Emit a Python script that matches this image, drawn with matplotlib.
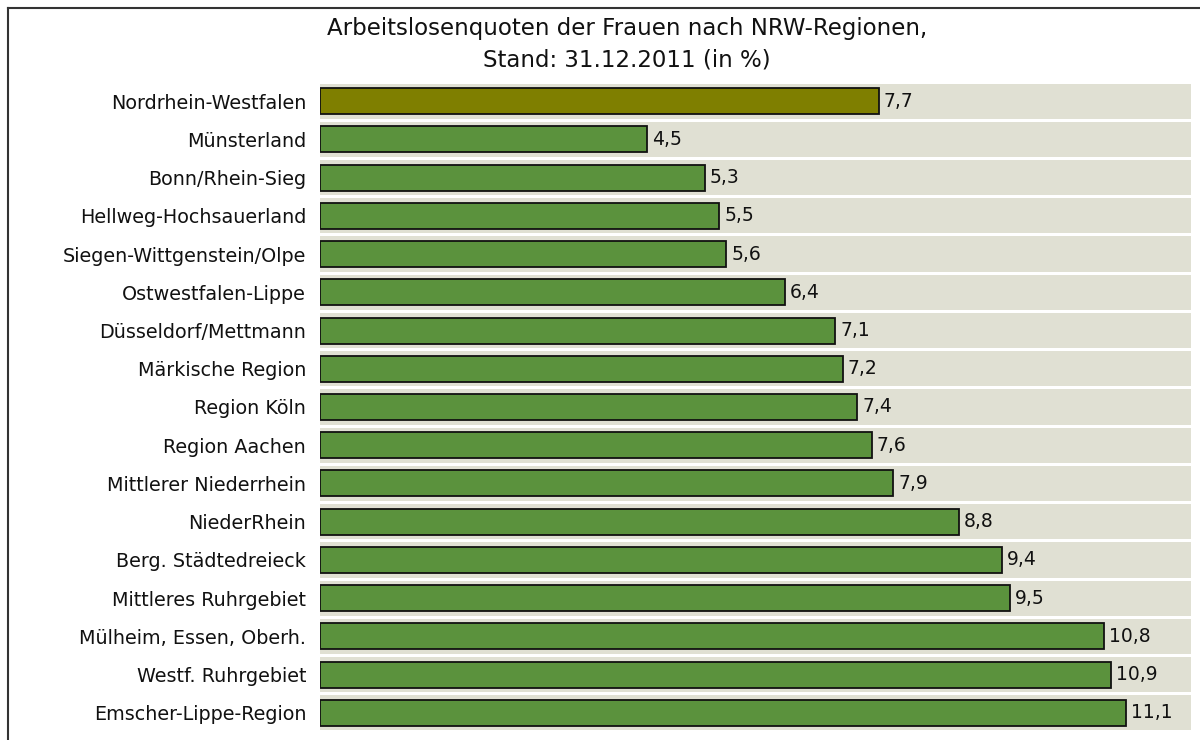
import numpy as np
import matplotlib
matplotlib.use("Agg")
import matplotlib.pyplot as plt
from matplotlib.lines import Line2D

plt.rcParams['font.family'] = ['DejaVu Sans']

regions = ["Nordrhein-Westfalen", "Münsterland", "Bonn/Rhein-Sieg",
           "Hellweg-Hochsauerland", "Siegen-Wittgenstein/Olpe",
           "Ostwestfalen-Lippe", "Düsseldorf/Mettmann", "Märkische Region",
           "Region Köln", "Region Aachen", "Mittlerer Niederrhein",
           "NiederRhein", "Berg. Städtedreieck", "Mittleres Ruhrgebiet",
           "Mülheim, Essen, Oberh.", "Westf. Ruhrgebiet", "Emscher-Lippe-Region"]
quote = [7.7, 4.5, 5.3, 5.5, 5.6, 6.4, 7.1, 7.2, 7.4, 7.6, 7.9, 8.8, 9.4,
         9.5, 10.8, 10.9, 11.1]

fig = plt.figure(figsize=(12, 7.4), dpi=100)
ax = fig.add_axes([0.2667, 0.0108, 0.7258, 0.8784])

y = np.arange(len(regions))
colors = ['#7f7f00'] + ['#5b923d'] * (len(regions) - 1)

# background bands
ax.barh(y, [12] * len(regions), height=0.92, color='#e0e0d3', left=0)
ax.barh(y, quote, height=0.68, color=colors, edgecolor='#111111', linewidth=1.3)

for yi, v in zip(y, quote):
    ax.text(v + 0.07, yi, f"{v:.1f}".replace('.', ','), va='center', ha='left',
            fontsize=13.5, color='#111111')

ax.set_xlim(0, 12)
ax.set_ylim(len(regions) - 0.5, -0.5)
ax.set_yticks(y)
ax.set_yticklabels(regions, fontsize=13.8, color='#111111')
ax.tick_params(axis='y', length=0, pad=10)
ax.set_xticks([])
for s in ax.spines.values():
    s.set_visible(False)

fig.text(0.5225, 0.940, "Arbeitslosenquoten der Frauen nach NRW-Regionen,\nStand: 31.12.2011 (in %)",
         ha='center', va='center', fontsize=16.5, color='#111111', linespacing=1.45)

# frame
fig.add_artist(Line2D([8 / 1200, 8 / 1200], [0, 1 - 8 / 740], color='#333333', lw=1.5))
fig.add_artist(Line2D([8 / 1200, 1], [1 - 8 / 740, 1 - 8 / 740], color='#333333', lw=1.5))

fig.savefig("out.png", dpi=100)
